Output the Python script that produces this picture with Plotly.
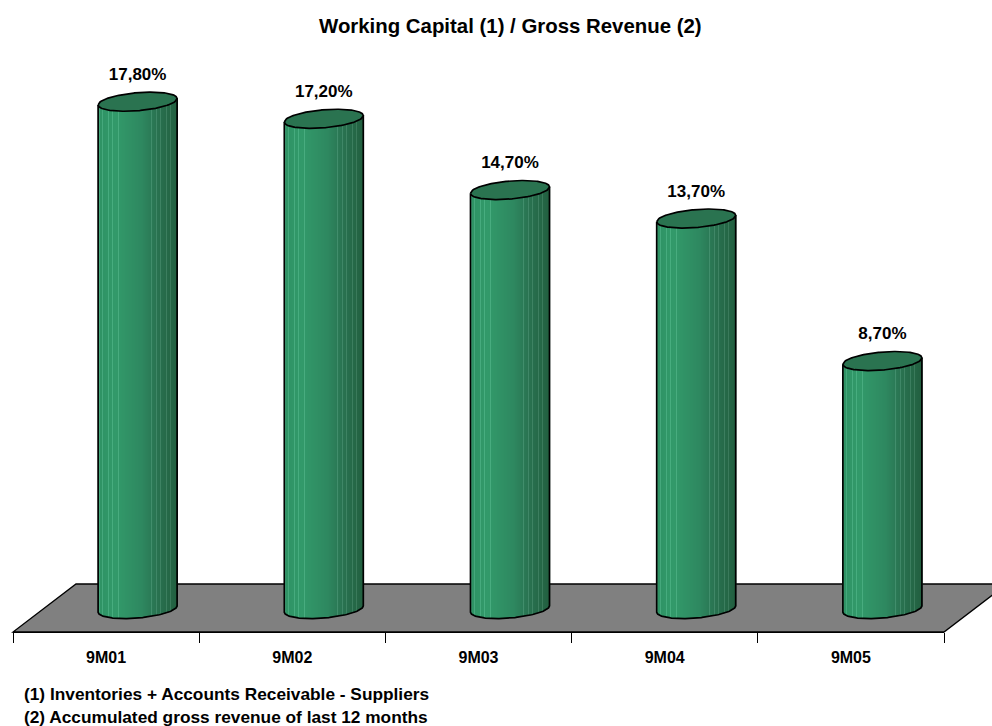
import numpy as np
import plotly.graph_objects as go

# Chart content
periods = ["9M01", "9M02", "9M03", "9M04", "9M05"]
ratio_pct = [17.8, 17.2, 14.7, 13.7, 8.7]
value_labels = ["17,80%", "17,20%", "14,70%", "13,70%", "8,70%"]
chart_title = "Working Capital (1) / Gross Revenue (2)"
footnotes = [
    "(1) Inventories + Accounts Receivable - Suppliers",
    "(2) Accumulated gross revenue of last 12 months",
]

# Page and scale set-up
W, H = 992, 726
PLOT_LEFT, PLOT_RIGHT, PLOT_BOTTOM = 13, 944, 632
PLOT_W = PLOT_RIGHT - PLOT_LEFT
PX_PER_CAT = PLOT_W / len(periods)
PX_PER_PCT = 28.5
FLOOR_PX_X, FLOOR_PX_Y = 63, 48          # depth of the oblique floor
BASE_DROP_PX = 23                        # cylinders stand about mid-way across the floor
y_min = -BASE_DROP_PX / PX_PER_PCT
y_max = y_min + PLOT_BOTTOM / PX_PER_PCT

# Cylinder shape, in pixels then converted to axis units
RADIUS_PX = 39.5
SHIFT_PX = FLOOR_PX_X / 2
CAP_MINOR_PX = 9.0
CAP_TILT_PX = 3.2
cx_shift = SHIFT_PX / PX_PER_CAT
rx = RADIUS_PX / PX_PER_CAT


def cap_edge(t, sign):
    """Offset in axis units of the elliptical cap edge at position t in [-1, 1]."""
    return (CAP_TILT_PX * t + sign * CAP_MINOR_PX * np.sqrt(np.clip(1 - t * t, 0, 1))) / PX_PER_PCT


def body_colour(t, px):
    stops_t = [-1.0, -0.55, 0.1, 0.5, 1.0]
    r = np.interp(t, stops_t, [46, 50, 46, 41, 34])
    g = np.interp(t, stops_t, [146, 154, 136, 114, 96])
    b = np.interp(t, stops_t, [100, 106, 96, 80, 64])
    if px in (1, 4, 10, 14, 20, 53, 58, 62, 68, 72):
        r, g, b = r + 22, g + 20, b + 22
    return f"rgb({r:.0f},{g:.0f},{b:.0f})"


def paper_x(px):
    return (px - PLOT_LEFT) / PLOT_W


def paper_y(px):
    return (PLOT_BOTTOM - px) / PLOT_BOTTOM


fig = go.Figure()

# Cylinder bodies: one-pixel vertical strips for the shaded surface
n_strips = int(2 * RADIUS_PX)
for px in range(n_strips):
    t = (px + 0.5) / n_strips * 2 - 1
    lo = cap_edge(t, -1)
    hi = CAP_TILT_PX * t / PX_PER_PCT
    fig.add_trace(go.Bar(
        x=periods,
        y=[v + hi - lo for v in ratio_pct],
        base=[lo] * len(periods),
        offset=cx_shift + (t - 1.0 / n_strips) * rx,
        width=1.6 / PX_PER_CAT,
        marker=dict(color=body_colour(t, px), line=dict(width=0)),
        hoverinfo="skip", showlegend=False,
    ))

# Outlines and top caps, on a numeric twin of the category axis
tt = np.linspace(-1, 1, 81)
for i, v in enumerate(ratio_pct):
    cx = i + cx_shift
    fig.add_trace(go.Scatter(
        x=np.concatenate([[cx - rx], cx + tt * rx, [cx + rx]]),
        y=np.concatenate([[v + cap_edge(-1, 1)], cap_edge(tt, -1), [v + cap_edge(1, 1)]]),
        xaxis="x2", mode="lines", line=dict(color="#000000", width=1.7),
        cliponaxis=False, hoverinfo="skip", showlegend=False,
    ))
    fig.add_trace(go.Scatter(
        x=np.concatenate([cx + tt * rx, cx + tt[::-1] * rx]),
        y=np.concatenate([v + cap_edge(tt, 1), v + cap_edge(tt[::-1], -1)]),
        xaxis="x2", mode="lines", fill="toself", fillcolor="#2a7350",
        line=dict(color="#000000", width=1.7),
        cliponaxis=False, hoverinfo="skip", showlegend=False,
    ))

# Value labels above each cylinder
fig.add_trace(go.Scatter(
    x=[i + cx_shift for i in range(len(periods))],
    y=[v + 26 / PX_PER_PCT for v in ratio_pct],
    xaxis="x2", mode="text", text=value_labels, textposition="middle center",
    textfont=dict(family="Liberation Sans", size=17, color="#000000"),
    texttemplate="<b>%{text}</b>",
    cliponaxis=False, hoverinfo="skip", showlegend=False,
))

annotations = [
    dict(text=f"<b>{chart_title}</b>", xref="paper", yref="paper",
         x=paper_x(510), y=paper_y(26),
         xanchor="center", yanchor="middle", showarrow=False,
         font=dict(family="Liberation Sans", size=20.4, color="#000000")),
]
for note, py in zip(footnotes, [694, 717]):
    annotations.append(dict(
        text=f"<b>{note}</b>", xref="paper", yref="paper",
        x=paper_x(22), y=paper_y(py),
        xanchor="left", yanchor="middle", showarrow=False,
        font=dict(family="Liberation Sans", size=17.3, color="#000000"),
    ))

# Grey floor drawn beneath everything; it runs off the right of the page
floor_corners = [
    (PLOT_LEFT, PLOT_BOTTOM),
    (PLOT_RIGHT, PLOT_BOTTOM),
    (PLOT_RIGHT + FLOOR_PX_X, PLOT_BOTTOM - FLOOR_PX_Y),
    (PLOT_LEFT + FLOOR_PX_X, PLOT_BOTTOM - FLOOR_PX_Y),
]
floor_path = "M " + " L ".join(f"{paper_x(a):.5f} {paper_y(b):.5f}" for a, b in floor_corners) + " Z"

fig.update_layout(
    width=W, height=H,
    margin=dict(l=PLOT_LEFT, r=W - PLOT_RIGHT, t=0, b=H - PLOT_BOTTOM, pad=0),
    paper_bgcolor="#ffffff", plot_bgcolor="rgba(0,0,0,0)",
    barmode="overlay", showlegend=False,
    annotations=annotations,
    shapes=[dict(type="path", path=floor_path, xref="paper", yref="paper", layer="below",
                 fillcolor="#808080", line=dict(color="#000000", width=1.3))],
    xaxis=dict(
        type="category", categoryorder="array", categoryarray=periods,
        range=[-0.5, 4.5], tickson="boundaries", ticks="outside", ticklen=10,
        tickwidth=1, tickcolor="#000000", showline=True, linecolor="#000000",
        linewidth=1, showgrid=False, zeroline=False, ticklabelstandoff=11,
        tickprefix="<b>", ticksuffix="</b>",
        tickfont=dict(family="Liberation Sans", size=16, color="#000000"),
    ),
    xaxis2=dict(range=[-0.5, 4.5], overlaying="x", visible=False),
    yaxis=dict(range=[y_min, y_max], visible=False, showgrid=False, zeroline=False),
)

fig.write_html("out.html", config={"displayModeBar": False})
